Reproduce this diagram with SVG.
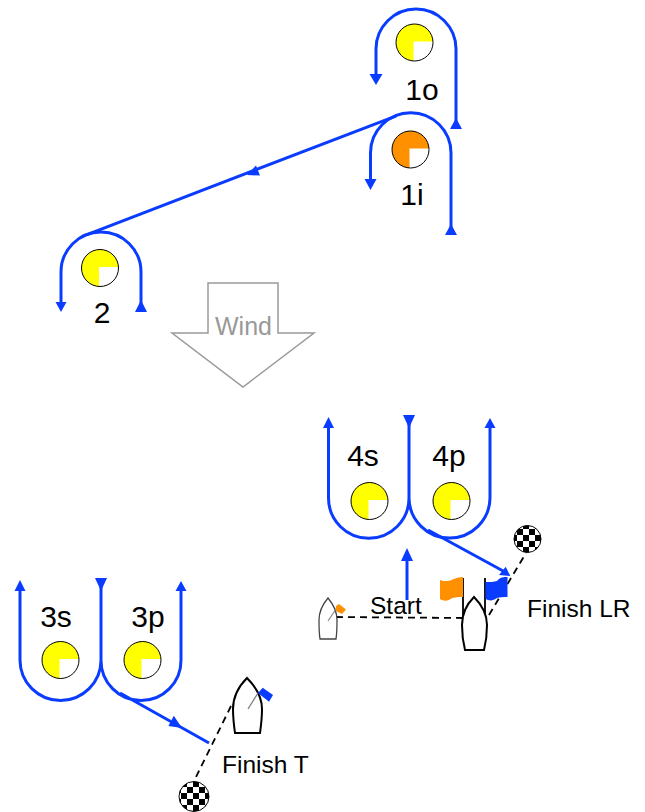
<svg xmlns="http://www.w3.org/2000/svg" width="645" height="812" viewBox="0 0 645 812">
<style>
.r{fill:none;stroke:#0a3cff;stroke-width:3}
.a{fill:#0a3cff}
.t{font-family:"Liberation Sans",Arial,sans-serif;fill:#000}
.l{font-size:30px;text-anchor:middle}
.s{font-size:24.500px}
.d{fill:none;stroke:#000;stroke-width:1.800;stroke-dasharray:7 5}
.b{fill:#fff;stroke:#000;stroke-width:2}
</style>
<defs>
<g id="mark-shape"><path d="M0 0V18.500A18.500 18.500 0 0 1 0-18.500 18.500 18.500 0 0 1 18.500 0Z" stroke="none"/><path d="M-1-1H18.500A18.500 18.500 0 0 1-1 18.500Z" fill="#fff" stroke="none"/><circle r="18.500" fill="none" stroke="#000" stroke-width="1"/></g>
<pattern id="chk" width="12" height="12" patternUnits="userSpaceOnUse" x="1" y="1"><rect width="12" height="12" fill="#fff"/><rect width="6" height="6"/><rect x="6" y="6" width="6" height="6"/></pattern>
</defs>
<g id="connectors">
<path class="r" d="M376 78V49A40 40 0 0 1 456 49V122"/>
<polygon class="a" points="369.500,74 382.500,74 376,85"/>
<polygon class="a" points="450,129 462,129 456,118"/>
<path class="r" d="M370.500 180V153A40.250 40.250 0 0 1 451 153V228"/>
<polygon class="a" points="364.500,179 376.500,179 370.500,190"/>
<polygon class="a" points="445,235 457,235 451,224"/>
<path class="r" d="M396.400 115.800 86.400 234.800"/>
<polygon class="a" points="247,175 256,165.400 260,175.600"/>
<path class="r" d="M61 305V272A40 40 0 0 1 141 272V305"/>
<polygon class="a" points="55.500,302 66.500,302 61,312"/>
<polygon class="a" points="135,312 147,312 141,300"/>
<path class="r" d="M20 585V660A40.500 40.500 0 0 0 101 660V585M101 660A40 40 0 0 0 141 700.500 40 40 0 0 0 181 660V585M120 693 209 743"/>
<polygon class="a" points="14.500,591 25.500,591 20,580"/>
<polygon class="a" points="95,578 107,578 101,591"/>
<polygon class="a" points="175.500,591 186.500,591 181,581"/>
<polygon class="a" points="182,728 173.800,715.800 168.400,726"/>
<path class="r" d="M328.500 422V498A40.250 40.250 0 0 0 409 498V422M409 498A40.500 40.500 0 0 0 449.500 538 40.500 40.500 0 0 0 490 498V422"/>
<polygon class="a" points="323,428 334,428 328.500,417"/>
<polygon class="a" points="403,415 415,415 409,428"/>
<polygon class="a" points="484.500,428 495.500,428 490,418"/>
<path class="r" d="M428 530 505 572"/>
<polygon class="a" points="510.300,576 499,575 505.700,566.700"/>
<path class="r" d="M407 600V556"/>
<polygon class="a" points="401,561 413,561 407,548"/>
<path class="d" d="M336 617 463 618"/>
<path class="d" d="M489 615 526 553"/>
<path class="d" d="M231 706 194 781"/>
</g>
<g id="mark-1o" fill="#ff0"><use href="#mark-shape" x="414.500" y="42.500"/><text class="t l" x="422" y="100">1o</text></g>
<g id="mark-1i" fill="#ff9100"><use href="#mark-shape" x="410.500" y="149.500"/><text class="t l" x="412" y="205">1i</text></g>
<g id="mark-2" fill="#ff0"><use href="#mark-shape" x="100" y="268"/><text class="t l" x="102" y="323">2</text></g>
<g id="mark-3s" fill="#ff0"><use href="#mark-shape" x="60.500" y="660"/><text class="t l" x="56" y="627">3s</text></g>
<g id="mark-3p" fill="#ff0"><use href="#mark-shape" x="142.500" y="660"/><text class="t l" x="148" y="627">3p</text></g>
<g id="mark-4s" fill="#ff0"><use href="#mark-shape" x="369.500" y="501"/><text class="t l" x="363" y="466">4s</text></g>
<g id="mark-4p" fill="#ff0"><use href="#mark-shape" x="451.500" y="501"/><text class="t l" x="449" y="466">4p</text></g>
<g id="wind"><polygon points="208,283 278,283 278,333 314,333 243,387 172,333 208,333" fill="#fff" stroke="#999" stroke-width="1.500"/><text class="t" x="243.500" y="335" text-anchor="middle" font-size="25" style="fill:#999">Wind</text></g>
<g id="start"><text class="t s" x="370" y="614">Start</text></g>
<g id="boat-start">
<path d="M328 598C323 604 319 611 319 620 319 627 319 633 320 639H336C337 633 337 627 337 620 337 611 333 604 328 598Z" fill="#fff" stroke="#444" stroke-width="1.300"/>
<path d="M328 621 338 606" stroke="#888" stroke-width="1.200"/>
<polygon points="336,606 339,604 346,609.500 342,614 336,611" fill="#ff9100"/>
</g>
<g id="boat-finish-lr">
<path d="M463 578V616M485 578V616" stroke="#000" stroke-width="1.800" fill="none"/>
<path d="M463 577C455 577 452 581 447 581 444 581 442 581 440 580V599C443 601 446 601 449 600 453 597 457 597 463 597Z" fill="#ff9100"/>
<path d="M485.500 582C490 582 494 582 497 581 500 577 504 577 507.500 577V597C503 597 500 597 497 598 493 601 489 601 485.500 599Z" fill="#0a3cff"/>
<path class="b" d="M474 597C467 604 462 614 462 625 462 634 463 642 465 650H484C486 642 487 634 487 625 487 614 481 604 474 597Z" stroke-width="2.200"/>
</g>
<g id="pin-lr"><circle cx="527.500" cy="539" r="13.500" fill="url(#chk)" stroke="#000" stroke-width="1"/></g>
<g id="finish-lr"><text class="t s" x="527" y="617">Finish LR</text></g>
<g id="boat-finish-t">
<path class="b" d="M247 678C239 686 233 697 233 709 233 718 234 726 235 733H260C261 726 262 718 262 709 262 697 255 686 247 678Z"/>
<path d="M248 709 258 693" stroke="#777" stroke-width="1.200"/>
<polygon points="258,693 262.700,687.700 273,695 269,701.700" fill="#0a3cff"/>
</g>
<g id="pin-t"><circle cx="194" cy="796.500" r="15" fill="url(#chk)" stroke="#000" stroke-width="1"/></g>
<g id="finish-t"><text class="t s" x="222" y="773">Finish T</text></g>
</svg>
